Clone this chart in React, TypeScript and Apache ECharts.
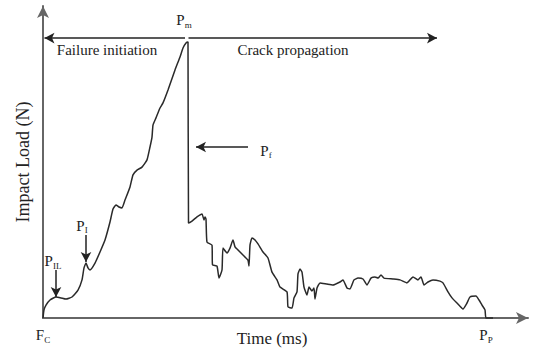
import { useEffect, useRef } from "react";
import * as echarts from "echarts";

// Impact load–time trace (schematic units)
const timeMs = [
  0, 0.2, 0.6, 1.4, 2.6, 3.6, 4.6, 5.8, 7, 7.8, 8.2, 8.6, 9, 9.4, 10.4, 11.4, 12.4, 13.4, 14, 14.6,
  15.2, 15.8, 16.4, 17.4, 18, 18.8, 19.8, 20.8, 21.4, 21.8, 22, 22.6, 23.4, 24, 25, 26.4, 27.4, 28,
  28.6, 29, 29.1, 29.8, 30.8, 31.8, 32.2, 32.4, 32.6, 32.8, 33.8, 33.9, 34.8, 35.2, 35.8, 36, 36.8,
  37.4, 38, 38.4, 39, 40.4, 41, 41.2, 41.4, 41.8, 42.4, 43, 44, 45, 45.8, 46.8, 47.4, 48.8, 49, 49.8,
  50.2, 50.8, 51, 51.4, 51.8, 52.2, 52.8, 53.2, 53.8, 54.2, 54.4, 54.8, 55.4, 56.8, 58, 59.4, 60,
  60.8, 61.4, 62.2, 63, 64, 64.8, 65.6, 66.4, 67, 67.6, 68.2, 70, 71.4, 72.8, 74, 75, 75.6, 76.2, 77,
  78, 79.4, 80, 81, 81.8, 82.8, 84, 84.8, 85.4, 86.6, 87.2, 87.8, 88.4, 88.6, 90,
];
const loadN = [
  0, 2.7, 4.3, 6, 7, 6.7, 6.3, 7, 9.3, 12.7, 16.7, 18.3, 16.7, 16, 18.3, 22, 26, 32, 36.3, 37.7,
  37, 36.7, 39.3, 43.7, 47.7, 49.3, 50.3, 52.7, 57, 60.3, 64.3, 66.7, 70, 71.7, 76, 82.7, 87, 90,
  91.7, 92, 31.7, 32.3, 33.7, 34.7, 32.7, 33.7, 33, 25.3, 24.3, 17.7, 17.3, 13.3, 16, 23.3, 21.7,
  23.3, 26, 23.7, 22.7, 20.3, 19.3, 17.3, 24.3, 26.7, 26, 24.7, 22, 20, 15.3, 12.7, 10.3, 8.7, 3.7, 3.3,
  6.7, 8.7, 14.7, 16.3, 15.3, 10.3, 7.7, 10.3, 9, 10, 6.3, 10, 11.7, 11.3, 11, 12, 12.7,
  10, 9.7, 12.7, 13.3, 13, 11, 13.3, 13.7, 13.3, 14.3, 13.3, 13, 12.7, 11.7, 13.7, 12.7, 13.7, 11, 12,
  12.7, 12.3, 11.7, 8.7, 6.7, 5, 3, 5, 7, 7.3, 6, 4.3, 2.7, 0, 0,
];

// Key points on the trace
const peakPoint = [29, 92]; // Pm
const phaseLineLoad = 93.3;
const phaseLeftEnd = 0.3;
const phaseRightEnd = 78.8;
const fracturePointer = { from: [41, 57], to: [30.6, 57] }; // Pf
const initPointer = { from: [8.6, 27.7], to: [8.6, 18.7] }; // PI
const incipientPointer = { from: [2.6, 16], to: [2.6, 7] }; // PIL
const propagationEnd = 88.6; // Pp

const serif = "Liberation Serif";
const ink = "#222";

const subRich = {
  p: { fontFamily: serif, fontSize: 15, color: ink, lineHeight: 18 },
  s: { fontFamily: serif, fontSize: 9, color: ink, verticalAlign: "bottom", lineHeight: 16 },
};

const textPoint = (coord: number[], formatter: string) => ({
  coord,
  symbol: "rect",
  symbolSize: 1,
  itemStyle: { color: "rgba(0,0,0,0)" },
  label: { show: true, position: "inside", formatter, rich: subRich, fontFamily: serif, fontSize: 15, color: ink },
});

const phaseLabel = (coord: number[], text: string) => ({
  coord,
  symbol: "rect",
  symbolSize: 1,
  itemStyle: { color: "rgba(0,0,0,0)" },
  label: { show: true, position: "inside", formatter: text, fontFamily: serif, fontSize: 15, color: ink },
});

export default function App() {
  const ref = useRef<HTMLDivElement>(null);

  useEffect(() => {
    if (!ref.current) return;
    const chart = echarts.init(ref.current, undefined, { renderer: "svg" });
    const data = timeMs.map((t, i) => [t, loadN[i]]);

    chart.setOption({
      animation: false,
      backgroundColor: "#fff",
      textStyle: { fontFamily: serif },
      grid: { left: 43, right: 15, top: 6, bottom: 32, outerBoundsMode: "none", containLabel: false },
      xAxis: {
        type: "value",
        min: 0,
        max: 97,
        name: "Time (ms)",
        nameLocation: "middle",
        nameGap: 12,
        nameMoveOverlap: false,
        nameTextStyle: { fontFamily: serif, fontSize: 17, color: ink, padding: [0, 27, 0, 0] },
        axisLine: { show: true, symbol: ["none", "arrow"], symbolSize: [9, 12], lineStyle: { color: "#666", width: 2 } },
        axisTick: { show: false },
        splitLine: { show: false },
        axisLabel: {
          show: true,
          customValues: [0, propagationEnd],
          margin: 8,
          formatter: (v: number) => (v === 0 ? "{p|F}{s|C}" : "{p|P}{s|P}"),
          rich: subRich,
        },
      },
      yAxis: {
        type: "value",
        min: 0,
        max: 104,
        name: "Impact Load (N)",
        nameLocation: "middle",
        nameGap: 11,
        nameMoveOverlap: false,
        nameTextStyle: { fontFamily: serif, fontSize: 18, color: ink },
        axisLine: { show: true, symbol: ["none", "arrow"], symbolSize: [9, 12], lineStyle: { color: "#666", width: 2 } },
        axisTick: { show: false },
        axisLabel: { show: false },
        splitLine: { show: false },
      },
      series: [
        {
          type: "line",
          data,
          showSymbol: false,
          smooth: 0.15,
          lineStyle: { color: "#2a2a2a", width: 1.5 },
          clip: false,
          markLine: {
            silent: true,
            symbol: ["none", "arrow"],
            symbolSize: [8, 10],
            label: { show: false },
            lineStyle: { color: "#222", width: 1.5, type: "solid" },
            data: [
              [{ coord: [peakPoint[0] - 0.6, phaseLineLoad] }, { coord: [phaseLeftEnd, phaseLineLoad] }],
              [{ coord: [peakPoint[0] + 0.1, phaseLineLoad] }, { coord: [phaseRightEnd, phaseLineLoad] }],
              [{ coord: fracturePointer.from }, { coord: fracturePointer.to }],
              [{ coord: initPointer.from }, { coord: initPointer.to }],
              [{ coord: incipientPointer.from }, { coord: incipientPointer.to }],
            ],
          },
          markPoint: {
            silent: true,
            data: [
              textPoint([peakPoint[0] - 0.8, 99.3], "{p|P}{s|m}"),
              textPoint([44.6, 55.7], "{p|P}{s|f}"),
              textPoint([7.8, 30.7], "{p|P}{s|I}"),
              textPoint([2, 19], "{p|P}{s|IL}"),
              phaseLabel([12.8, 89.3], "Failure initiation"),
              phaseLabel([50, 89.3], "Crack propagation"),
            ],
          },
        },
      ],
    });

    return () => chart.dispose();
  }, []);

  return <div ref={ref} style={{ width: 543, height: 350, position: "absolute", left: 0, top: 0 }} />;
}
